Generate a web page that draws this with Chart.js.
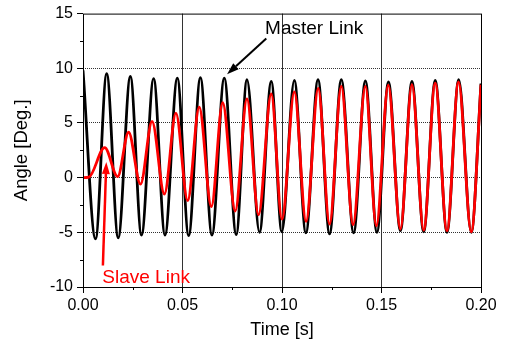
<!DOCTYPE html>
<html>
<head>
<meta charset="utf-8">
<script src="https://cdn.jsdelivr.net/npm/chart.js@4/dist/chart.umd.min.js"></script>
<style>
  html, body { margin: 0; padding: 0; background: #fff; }
  #wrap { width: 510px; height: 344px; }
</style>
</head>
<body>
<div id="wrap"><canvas id="angleChart" width="510" height="344"></canvas></div>
<script>
// peaks and troughs (time in s, angle in deg)
const masterTime = [0, 0.0063, 0.0119, 0.0177, 0.0238, 0.0294, 0.0355, 0.0412, 0.0474, 0.0531,
  0.0590, 0.0648, 0.0710, 0.0770, 0.0824, 0.0887, 0.0946, 0.0999, 0.1062, 0.1120,
  0.1181, 0.1239, 0.1298, 0.1360, 0.1419, 0.1477, 0.1535, 0.1595, 0.1653, 0.1712,
  0.1770, 0.1829, 0.1888, 0.1951, 0.2];
const masterAngle = [9.8, -5.6, 9.5, -5.5, 9.25, -5.25, 9.05, -5.25, 9.1, -5.3,
  9.15, -5.25, 9.1, -5.2, 8.95, -5.0, 8.8, -4.95, 8.9, -5.05,
  8.95, -5.15, 8.95, -5.05, 8.85, -5.0, 8.75, -4.85, 8.8, -4.95,
  8.9, -5.0, 8.95, -5.0, 8.6];

const slaveTime = [0, 0.003, 0.0109, 0.0174, 0.0229, 0.0289, 0.0347, 0.0409, 0.0467, 0.0526,
  0.0584, 0.0645, 0.0702, 0.0765, 0.0824, 0.0882, 0.0946, 0.1000, 0.1062, 0.1121,
  0.1182, 0.1239, 0.1298, 0.1357, 0.1419, 0.1474, 0.1534, 0.1595, 0.1653, 0.1712,
  0.1770, 0.1829, 0.1887, 0.1951, 0.2];
const slaveAngle = [0, 0.05, 2.75, 0.1, 4.15, -0.6, 5.15, -1.5, 5.9, -2.1,
  6.45, -2.65, 6.85, -3.05, 7.2, -3.4, 7.65, -3.8, 7.85, -4.0,
  8.15, -4.25, 8.35, -4.3, 8.35, -4.4, 8.45, -4.7, 8.5, -4.8,
  8.65, -4.85, 8.75, -4.95, 8.5];

const xMajorTicks = [0, 0.05, 0.10, 0.15, 0.20];
const yMajorTicks = [-10, -5, 0, 5, 10, 15];

const FONT = "'Liberation Sans', Arial, sans-serif";

function toPoints(xs, ys) {
  return xs.map((t, i) => ({x: t, y: ys[i]}));
}
function isMajor(v, list) {
  return list.some(m => Math.abs(m - v) < 1e-9);
}

// frame, minor ticks and the two labelled arrows
const decorations = {
  id: 'decorations',
  afterDatasetsDraw(chart) {
    const {ctx, chartArea: a, scales: {x, y}} = chart;
    ctx.save();
    ctx.strokeStyle = '#000';
    ctx.lineWidth = 1;
    ctx.strokeRect(a.left + 0.5, a.top + 0.5, a.right - a.left, a.bottom - a.top);

    ctx.beginPath();
    x.ticks.forEach(t => {
      if (isMajor(t.value, xMajorTicks)) return;
      const px = Math.round(x.getPixelForValue(t.value)) + 0.5;
      ctx.moveTo(px, a.bottom);
      ctx.lineTo(px, a.bottom + 3);
    });
    y.ticks.forEach(t => {
      if (isMajor(t.value, yMajorTicks)) return;
      const py = Math.round(y.getPixelForValue(t.value)) + 0.5;
      ctx.moveTo(a.left, py);
      ctx.lineTo(a.left - 3, py);
    });
    ctx.stroke();

    drawArrow(ctx, x, y, 0.0921, 12.73, 0.0724, 9.45, '#000', 2);
    drawArrow(ctx, x, y, 0.0100, -8.03, 0.0117, 1.43, '#ff0000', 2.5);

    ctx.font = '19px ' + FONT;
    ctx.textBaseline = 'middle';
    ctx.textAlign = 'left';
    ctx.fillStyle = '#000';
    ctx.fillText('Master Link', x.getPixelForValue(0.0915), y.getPixelForValue(13.58));
    ctx.fillStyle = '#ff0000';
    ctx.fillText('Slave Link', x.getPixelForValue(0.0097), y.getPixelForValue(-9.2));
    ctx.restore();
  }
};

function drawArrow(ctx, x, y, x0, y0, x1, y1, color, width) {
  const ax = x.getPixelForValue(x0), ay = y.getPixelForValue(y0);
  const bx = x.getPixelForValue(x1), by = y.getPixelForValue(y1);
  const ang = Math.atan2(by - ay, bx - ax);
  const len = 12, half = 4;
  const cx = bx - len * Math.cos(ang), cy = by - len * Math.sin(ang);
  ctx.strokeStyle = color;
  ctx.fillStyle = color;
  ctx.lineWidth = width;
  ctx.beginPath();
  ctx.moveTo(ax, ay);
  ctx.lineTo(cx, cy);
  ctx.stroke();
  ctx.beginPath();
  ctx.moveTo(bx, by);
  ctx.lineTo(cx + half * Math.sin(ang), cy - half * Math.cos(ang));
  ctx.lineTo(cx - half * Math.sin(ang), cy + half * Math.cos(ang));
  ctx.closePath();
  ctx.fill();
}

new Chart(document.getElementById('angleChart'), {
  type: 'line',
  data: {
    datasets: [{
      label: 'Slave Link',
      data: toPoints(slaveTime, slaveAngle),
      borderColor: '#ff0000',
      borderWidth: 2.8,
      pointRadius: 0,
      cubicInterpolationMode: 'monotone',
      fill: false
    }, {
      label: 'Master Link',
      data: toPoints(masterTime, masterAngle),
      borderColor: '#000000',
      borderWidth: 2.8,
      pointRadius: 0,
      cubicInterpolationMode: 'monotone',
      fill: false
    }]
  },
  options: {
    responsive: false,
    animation: false,
    layout: {padding: {left: 0, right: 29, top: 12, bottom: 0}},
    plugins: {legend: {display: false}, tooltip: {enabled: false}},
    scales: {
      x: {
        type: 'linear',
        min: 0,
        max: 0.2,
        afterFit: s => { s.height = 57; },
        border: {display: false},
        grid: {
          color: c => (isMajor(c.tick.value, xMajorTicks) && c.tick.value > 0 && c.tick.value < 0.2) ? '#333' : 'rgba(0,0,0,0)',
          lineWidth: 1,
          tickLength: 6,
          tickColor: c => isMajor(c.tick.value, xMajorTicks) ? '#000' : 'rgba(0,0,0,0)'
        },
        ticks: {
          stepSize: 0.025,
          autoSkip: false,
          maxRotation: 0,
          padding: 3,
          color: '#000',
          font: {family: FONT, size: 16},
          callback: v => isMajor(v, xMajorTicks) ? v.toFixed(2) : ''
        },
        title: {
          display: true,
          text: 'Time [s]',
          color: '#000',
          font: {family: FONT, size: 18},
          padding: {top: 0, bottom: 3}
        }
      },
      y: {
        min: -10,
        max: 15,
        afterFit: s => { s.width = 83; },
        border: {display: false, dash: [1, 1]},
        grid: {
          color: c => (isMajor(c.tick.value, yMajorTicks) && c.tick.value > -10 && c.tick.value < 15) ? '#333' : 'rgba(0,0,0,0)',
          lineWidth: 1,
          tickLength: 6,
          tickColor: c => isMajor(c.tick.value, yMajorTicks) ? '#000' : 'rgba(0,0,0,0)'
        },
        ticks: {
          stepSize: 2.5,
          autoSkip: false,
          padding: 4,
          color: '#000',
          font: {family: FONT, size: 16},
          callback: v => isMajor(v, yMajorTicks) ? String(v) : ''
        },
        title: {
          display: true,
          text: 'Angle [Deg.]',
          color: '#000',
          font: {family: FONT, size: 18.5},
          padding: {top: 11, bottom: 0}
        }
      }
    }
  },
  plugins: [decorations]
});
</script>
</body>
</html>
